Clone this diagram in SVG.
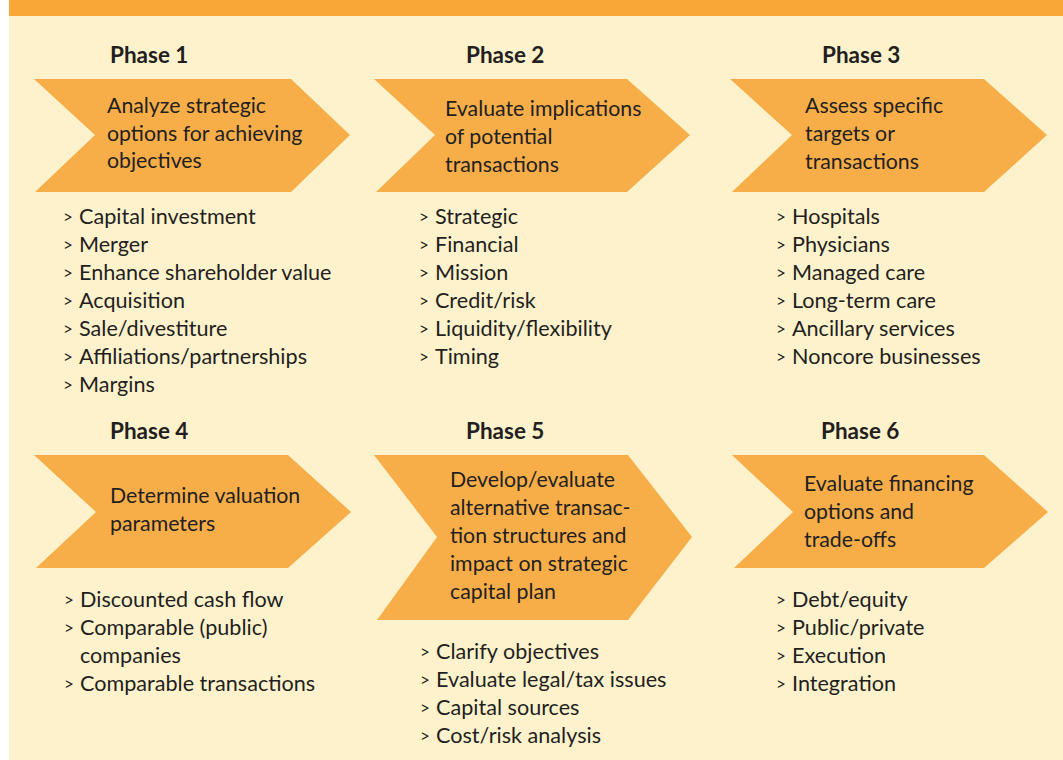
<svg xmlns="http://www.w3.org/2000/svg" width="1063" height="760" viewBox="0 0 1063 760">
  <style>
    .bg { fill: #FEF2CD; }
    .band { fill: #F9A736; }
    .chev { fill: #F8AE48; }
    .head { font-family: Lato, "Open Sans", sans-serif; font-weight: 700; font-size: 22.5px; fill: #231F20; }
    .lbl { font-family: Lato, "Open Sans", sans-serif; font-size: 21.3px; fill: #231F20; }
    .item { font-family: Lato, "Open Sans", sans-serif; font-size: 21.6px; fill: #231F20; }
    .bul { font-family: Lato, "Open Sans", sans-serif; font-size: 17px; fill: #231F20; }
  </style>

  <!-- page -->
  <rect x="0" y="0" width="1063" height="760" fill="#FFFFFF"/>
  <rect class="bg" x="9" y="0" width="1054" height="760"/>
  <rect class="band" x="9" y="0" width="1054" height="16"/>

  <!-- Phase 1 -->
  <g id="phase1">
    <text class="head" x="110" y="63">Phase 1</text>
    <polygon class="chev" points="34,79 291,79 350,135 291,192 35,192 95,135"/>
    <text class="lbl" x="107" y="113">Analyze strategic</text>
    <text class="lbl" x="107" y="141">options for achieving</text>
    <text class="lbl" x="107" y="168">objectives</text>
    <g>
      <text class="bul" x="63" y="223">&gt;</text><text class="item" x="79" y="224">Capital investment</text>
      <text class="bul" x="63" y="251">&gt;</text><text class="item" x="79" y="252">Merger</text>
      <text class="bul" x="63" y="279">&gt;</text><text class="item" x="79" y="280">Enhance shareholder value</text>
      <text class="bul" x="63" y="307">&gt;</text><text class="item" x="79" y="308">Acquisition</text>
      <text class="bul" x="63" y="335">&gt;</text><text class="item" x="79" y="336">Sale/divestiture</text>
      <text class="bul" x="63" y="363">&gt;</text><text class="item" x="79" y="364">Affiliations/partnerships</text>
      <text class="bul" x="63" y="391">&gt;</text><text class="item" x="79" y="392">Margins</text>
    </g>
  </g>

  <!-- Phase 2 -->
  <g id="phase2">
    <text class="head" x="466" y="63">Phase 2</text>
    <polygon class="chev" points="374,79 627,79 690,135 627,192 376,192 435,135"/>
    <text class="lbl" x="445" y="116">Evaluate implications</text>
    <text class="lbl" x="445" y="144">of potential</text>
    <text class="lbl" x="445" y="172">transactions</text>
    <g>
      <text class="bul" x="419" y="223">&gt;</text><text class="item" x="435" y="224">Strategic</text>
      <text class="bul" x="419" y="251">&gt;</text><text class="item" x="435" y="252">Financial</text>
      <text class="bul" x="419" y="279">&gt;</text><text class="item" x="435" y="280">Mission</text>
      <text class="bul" x="419" y="307">&gt;</text><text class="item" x="435" y="308">Credit/risk</text>
      <text class="bul" x="419" y="335">&gt;</text><text class="item" x="435" y="336">Liquidity/flexibility</text>
      <text class="bul" x="419" y="363">&gt;</text><text class="item" x="435" y="364">Timing</text>
    </g>
  </g>

  <!-- Phase 3 -->
  <g id="phase3">
    <text class="head" x="822" y="63">Phase 3</text>
    <polygon class="chev" points="730,79 984,79 1047,135 984,192 732,192 792,135"/>
    <text class="lbl" x="805" y="113">Assess specific</text>
    <text class="lbl" x="805" y="141">targets or</text>
    <text class="lbl" x="805" y="169">transactions</text>
    <g>
      <text class="bul" x="776" y="223">&gt;</text><text class="item" x="792" y="224">Hospitals</text>
      <text class="bul" x="776" y="251">&gt;</text><text class="item" x="792" y="252">Physicians</text>
      <text class="bul" x="776" y="279">&gt;</text><text class="item" x="792" y="280">Managed care</text>
      <text class="bul" x="776" y="307">&gt;</text><text class="item" x="792" y="308">Long-term care</text>
      <text class="bul" x="776" y="335">&gt;</text><text class="item" x="792" y="336">Ancillary services</text>
      <text class="bul" x="776" y="363">&gt;</text><text class="item" x="792" y="364">Noncore businesses</text>
    </g>
  </g>

  <!-- Phase 4 -->
  <g id="phase4">
    <text class="head" x="110" y="439">Phase 4</text>
    <polygon class="chev" points="34,455 288,455 351,512 288,568 36,568 96,512"/>
    <text class="lbl" x="110" y="503">Determine valuation</text>
    <text class="lbl" x="110" y="531">parameters</text>
    <g>
      <text class="bul" x="64" y="606">&gt;</text><text class="item" x="80" y="607">Discounted cash flow</text>
      <text class="bul" x="64" y="634">&gt;</text><text class="item" x="80" y="635">Comparable (public)</text>
      <text class="item" x="80" y="663">companies</text>
      <text class="bul" x="64" y="690">&gt;</text><text class="item" x="80" y="691">Comparable transactions</text>
    </g>
  </g>

  <!-- Phase 5 -->
  <g id="phase5">
    <text class="head" x="466" y="439">Phase 5</text>
    <polygon class="chev" points="374,455 628,455 692,537 628,620 377,620 437,537"/>
    <text class="lbl" x="450" y="487">Develop/evaluate</text>
    <text class="lbl" x="450" y="515">alternative transac-</text>
    <text class="lbl" x="450" y="543">tion structures and</text>
    <text class="lbl" x="450" y="571">impact on strategic</text>
    <text class="lbl" x="450" y="599">capital plan</text>
    <g>
      <text class="bul" x="420" y="658">&gt;</text><text class="item" x="436" y="659">Clarify objectives</text>
      <text class="bul" x="420" y="686">&gt;</text><text class="item" x="436" y="687">Evaluate legal/tax issues</text>
      <text class="bul" x="420" y="714">&gt;</text><text class="item" x="436" y="715">Capital sources</text>
      <text class="bul" x="420" y="742">&gt;</text><text class="item" x="436" y="743">Cost/risk analysis</text>
    </g>
  </g>

  <!-- Phase 6 -->
  <g id="phase6">
    <text class="head" x="821" y="439">Phase 6</text>
    <polygon class="chev" points="732,455 984,455 1048,512 984,568 734,568 793,512"/>
    <text class="lbl" x="804" y="491">Evaluate financing</text>
    <text class="lbl" x="804" y="519">options and</text>
    <text class="lbl" x="804" y="547">trade-offs</text>
    <g>
      <text class="bul" x="776" y="606">&gt;</text><text class="item" x="792" y="607">Debt/equity</text>
      <text class="bul" x="776" y="634">&gt;</text><text class="item" x="792" y="635">Public/private</text>
      <text class="bul" x="776" y="662">&gt;</text><text class="item" x="792" y="663">Execution</text>
      <text class="bul" x="776" y="690">&gt;</text><text class="item" x="792" y="691">Integration</text>
    </g>
  </g>

  <!-- connectors: none drawn, phases read left to right -->
  <g id="connectors"/>
</svg>
